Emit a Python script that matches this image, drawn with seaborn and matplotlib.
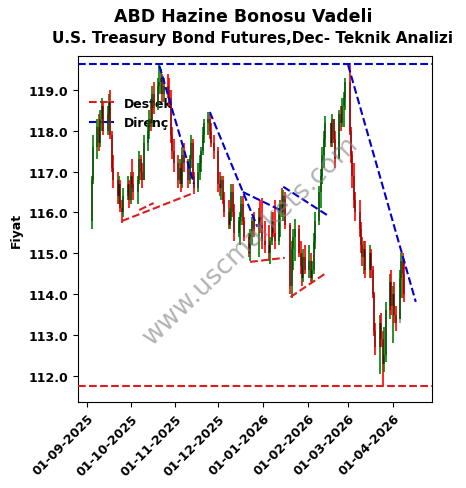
import pandas as pd
import numpy as np
import matplotlib
matplotlib.use("Agg")
import matplotlib.pyplot as plt
import matplotlib.dates as mdates
import seaborn as sns

# ---------------- data ----------------
holidays = ["2025-11-27", "2025-12-25", "2026-01-01", "2026-01-19", "2026-02-16"]
start_date = "2025-09-04"
end_date = "2026-04-09"

opens = [
    115.8, 116.8, 117.6, 118.1, 117.7, 118.3, 118.6, 118.0, 118.4, 118.7, 117.9, 117.1, 116.8, 116.4, 116.7, 116.1, 116.0, 116.4, 116.7,
    116.3, 116.9, 116.7, 116.5, 116.8, 117.3, 117.0, 116.8, 117.7, 118.0, 118.3, 118.2, 118.9, 118.6, 119.1, 119.2, 119.3, 118.9, 119.1, 119.0, 118.8, 117.9, 117.5,
    117.2, 116.8, 117.1, 116.7, 117.4, 117.2, 116.8, 117.3, 117.7, 116.9, 116.6, 117.0, 117.2, 117.5, 117.9, 118.2, 118.3, 118.0, 117.7,
    117.5, 116.7, 116.6, 116.8, 116.3, 116.0, 115.7, 115.9, 116.5, 116.0, 115.5, 115.8, 115.9, 116.2, 115.8, 115.4, 115.0, 115.5, 115.8, 115.6, 115.9, 115.7,
    115.3, 115.2, 115.0, 115.3, 115.8, 115.5, 115.3, 116.0, 116.2, 116.0, 116.4, 115.7, 114.2, 115.1, 115.4, 115.6, 115.0, 114.7, 114.4, 114.9,
    114.6, 114.8, 114.4, 114.6, 115.3, 115.8, 116.5, 116.9, 117.4, 117.8, 118.2, 117.7, 118.3, 117.8, 117.3, 118.4, 118.2, 118.6, 118.8,
    119.2, 118.0, 117.4, 116.9, 116.3, 116.0, 115.6, 115.2, 114.9, 115.1, 114.6, 115.0, 114.6, 114.0, 113.1, 112.7, 113.3, 112.9, 112.3, 112.5, 113.6, 114.3,
    113.7, 114.0, 113.5, 113.3, 114.4, 114.8, 114.5,
]
highs = [
    116.9, 117.9, 118.3, 118.4, 118.5, 118.8, 118.7, 118.6, 118.9, 119.0, 118.0, 117.4, 117.0, 116.9, 116.8, 116.3, 116.6, 116.9, 116.8,
    117.0, 117.3, 117.0, 116.9, 117.5, 117.4, 117.2, 117.9, 118.2, 118.5, 118.6, 119.1, 119.2, 119.3, 119.6, 119.5, 119.4, 119.3, 119.4, 119.3, 119.0, 118.1, 117.8,
    117.4, 117.3, 117.2, 117.6, 117.7, 117.3, 117.4, 117.9, 117.8, 117.0, 117.2, 117.4, 117.6, 118.1, 118.3, 118.45, 118.4, 118.2, 117.9,
    117.6, 117.0, 116.9, 116.9, 116.5, 116.3, 116.1, 116.7, 116.7, 116.2, 115.9, 116.0, 116.4, 116.4, 115.9, 115.5, 115.6, 115.9, 116.0, 116.1, 116.3, 116.35,
    115.8, 115.7, 115.4, 116.0, 116.0, 116.3, 116.1, 116.3, 116.6, 116.55, 116.5, 115.75, 115.3, 115.6, 115.85, 115.7, 115.3, 115.0, 115.1, 115.2,
    115.2, 115.0, 114.8, 115.5, 116.0, 116.65, 117.07, 117.6, 118.0, 118.36, 118.2, 118.4, 118.3, 118.0, 118.5, 118.6, 118.8, 118.95, 119.3,
    119.6, 118.1, 117.5, 117.2, 116.5, 116.3, 115.77, 115.4, 115.3, 115.3, 115.2, 115.1, 114.7, 114.06, 113.3, 113.5, 113.55, 113.1, 113.2, 113.8, 114.5, 114.6,
    114.2, 114.3, 113.7, 114.6, 115.0, 115.0, 114.86,
]
lows = [
    115.6, 116.7, 117.3, 117.5, 117.6, 118.0, 117.9, 117.9, 118.2, 117.8, 117.0, 116.6, 116.2, 116.2, 116.0, 115.75, 115.9, 116.3, 116.1,
    116.2, 116.6, 116.3, 116.2, 116.7, 116.8, 116.6, 116.8, 117.5, 117.8, 118.0, 118.1, 118.4, 118.5, 118.9, 118.9, 118.7, 118.7, 118.8, 118.6, 117.7, 117.3, 117.0,
    116.6, 116.7, 116.5, 116.6, 117.0, 116.6, 116.7, 117.1, 116.8, 116.45, 116.5, 116.8, 117.0, 117.4, 117.7, 117.9, 117.8, 117.6, 117.3,
    116.5, 116.4, 116.3, 116.2, 115.9, 115.6, 115.6, 115.8, 115.9, 115.3, 115.4, 115.2, 115.7, 115.7, 115.3, 114.9, 114.8, 115.2, 115.4, 114.9, 115.5, 115.1,
    115.0, 114.8, 114.75, 115.2, 115.4, 115.1, 115.2, 115.4, 115.9, 115.8, 115.6, 114.0, 113.9, 114.6, 114.8, 114.9, 114.5, 114.2, 114.3, 114.5,
    114.4, 114.3, 114.3, 114.5, 115.1, 115.7, 116.1, 116.7, 117.1, 117.6, 117.6, 117.6, 117.7, 117.1, 117.3, 118.0, 118.1, 118.1, 118.5,
    117.9, 117.2, 116.6, 116.1, 115.8, 115.4, 115.0, 114.7, 114.5, 114.4, 114.4, 114.4, 113.9, 112.98, 112.5, 112.05, 112.7, 111.76, 112.1, 112.34, 113.4, 113.5,
    112.8, 113.3, 113.1, 113.4, 113.9, 113.9, 113.8,
]
closes = [
    116.8, 117.6, 118.1, 117.7, 118.3, 118.6, 118.0, 118.4, 118.7, 117.9, 117.1, 116.8, 116.4, 116.7, 116.1, 116.0, 116.4, 116.7, 116.3,
    116.9, 116.7, 116.5, 116.8, 117.3, 117.0, 116.8, 117.7, 118.0, 118.3, 118.2, 118.9, 118.6, 119.1, 119.2, 119.3, 118.9, 119.1, 119.0, 118.8, 117.9, 117.5, 117.2,
    116.8, 117.1, 116.7, 117.4, 117.2, 116.8, 117.3, 117.7, 116.9, 116.6, 117.0, 117.2, 117.5, 117.9, 118.2, 118.3, 118.0, 117.7, 117.5,
    116.7, 116.6, 116.8, 116.3, 116.0, 115.7, 115.9, 116.5, 116.0, 115.5, 115.8, 115.9, 116.2, 115.8, 115.4, 115.0, 115.5, 115.8, 115.6, 115.9, 115.7, 115.3,
    115.2, 115.0, 115.3, 115.8, 115.5, 115.3, 116.0, 116.2, 116.0, 116.4, 115.7, 114.2, 115.1, 115.4, 115.6, 115.0, 114.7, 114.4, 114.9, 114.6,
    114.8, 114.4, 114.6, 115.3, 115.8, 116.5, 116.9, 117.4, 117.8, 118.2, 117.7, 118.3, 117.8, 117.3, 118.4, 118.2, 118.6, 118.8, 119.2,
    118.0, 117.4, 116.9, 116.3, 116.0, 115.6, 115.2, 114.9, 115.1, 114.6, 115.0, 114.6, 114.0, 113.1, 112.7, 113.3, 112.9, 112.3, 112.5, 113.6, 114.3, 113.7,
    114.0, 113.5, 113.3, 114.4, 114.8, 114.5, 114.0,
]

support_level = 111.76
resistance_level = 119.64

support_start_dates = ["2025-09-25", "2025-10-07", "2025-12-23", "2026-01-20"]
support_start_prices = [115.79, 116.06, 114.79, 113.93]
support_end_dates = ["2025-11-14", "2025-10-17", "2026-01-16", "2026-02-13"]
support_end_prices = [116.48, 116.23, 114.89, 114.50]

resist_start_dates = ["2025-10-21", "2025-11-25", "2025-12-18", "2026-01-15", "2026-03-01"]
resist_start_prices = [119.59, 118.46, 116.50, 116.63, 119.61]
resist_end_dates = ["2025-11-14", "2025-12-28", "2026-01-14", "2026-02-16", "2026-04-17"]
resist_end_prices = [116.70, 115.65, 116.04, 115.90, 113.81]

x_ticks = ["2025-09-01", "2025-10-01", "2025-11-01", "2025-12-01",
           "2026-01-01", "2026-02-01", "2026-03-01", "2026-04-01"]

title_main = "ABD Hazine Bonosu Vadeli"
title_sub = "U.S. Treasury Bond Futures,Dec- Teknik Analizi"
y_label = "Fiyat"
watermark = "www.uscmarkets.com"

# ---------------- figure ----------------
sns.set_style("white")
plt.rcParams["font.family"] = ["DejaVu Sans"]
plt.rcParams["font.weight"] = "bold"
plt.rcParams["axes.labelweight"] = "bold"
for key in ["text.color", "axes.labelcolor", "xtick.color", "ytick.color", "axes.edgecolor"]:
    plt.rcParams[key] = "black"

dates = pd.bdate_range(start_date, end_date, freq="C", holidays=holidays)
n = min(len(dates), len(opens), len(highs), len(lows), len(closes))
df = pd.DataFrame({"date": dates[:n], "open": opens[:n], "high": highs[:n],
                   "low": lows[:n], "close": closes[:n]})
df["up"] = df["close"] >= df["open"]

fig = plt.figure(figsize=(4.66, 4.89), dpi=100)
ax = fig.add_axes([78 / 466, 1 - 403 / 489, (432 - 78) / 466, (403 - 57) / 489])

colors = np.where(df["up"], "green", "red")
ax.vlines(df["date"], df["low"], df["high"], colors=colors, linewidth=1.2, zorder=2)
body_lo = np.minimum(df["open"], df["close"])
body_hi = np.maximum(df["open"], df["close"])
ax.vlines(df["date"], body_lo, body_hi, colors="black", linewidth=1.3, alpha=0.4, zorder=3)

# trend lines
for d0, p0, d1, p1 in zip(support_start_dates, support_start_prices, support_end_dates, support_end_prices):
    sns.lineplot(x=pd.to_datetime([d0, d1]), y=[p0, p1], ax=ax, color="#dd1c1c",
                 linestyle="--", linewidth=1.5, zorder=4)
for d0, p0, d1, p1 in zip(resist_start_dates, resist_start_prices, resist_end_dates, resist_end_prices):
    sns.lineplot(x=pd.to_datetime([d0, d1]), y=[p0, p1], ax=ax, color="#0000cc",
                 linestyle="--", linewidth=1.5, zorder=4)

ax.axhline(support_level, color="#dd1c1c", linestyle="--", linewidth=1.5, label="Destek", zorder=4)
ax.axhline(resistance_level, color="#0000cc", linestyle="--", linewidth=1.5, label="Direnç", zorder=4)

ax.set_xlim(pd.Timestamp("2025-08-25 12:00"), pd.Timestamp("2026-04-28 06:00"))
ax.set_ylim(111.36, 119.83)
ax.yaxis.set_major_locator(plt.MultipleLocator(1.0))
ax.yaxis.set_major_formatter(plt.FormatStrFormatter("%.1f"))
ax.set_xticks(pd.to_datetime(x_ticks))
ax.xaxis.set_major_formatter(mdates.DateFormatter("%d-%m-%Y"))
for lab in ax.get_xticklabels():
    lab.set_rotation(45)
    lab.set_ha("right")
    lab.set_rotation_mode("anchor")
    lab.set_fontweight("bold")
for lab in ax.get_yticklabels():
    lab.set_fontweight("bold")
ax.tick_params(axis="both", labelsize=9, length=3.5, width=0.8, direction="out",
               bottom=True, left=True, colors="black")
ax.set_xlabel("")
ax.set_ylabel(y_label, fontsize=9, fontweight="bold", color="black")
for s in ax.spines.values():
    s.set_color("black")
    s.set_linewidth(0.8)

leg = ax.legend(loc="upper left", bbox_to_anchor=(0.0, 0.915), frameon=True,
                framealpha=0.6, edgecolor="white", prop={"weight": "bold", "size": 9})
leg.set_zorder(1.5)
for t in leg.get_texts():
    t.set_color("black")

ax.text(0.487, 0.47, watermark, transform=ax.transAxes, fontsize=19, color="gray",
        alpha=0.6, rotation=44, ha="center", va="center", fontweight="normal", zorder=5)

fig.text(243 / 466, 1 - 17 / 489, title_main, ha="center", va="center",
         fontsize=12.5, fontweight="bold", color="black")
fig.text(253 / 466, 1 - 38 / 489, title_sub, ha="center", va="center",
         fontsize=11, fontweight="bold", color="black")

fig.savefig("out.png", dpi=100)
